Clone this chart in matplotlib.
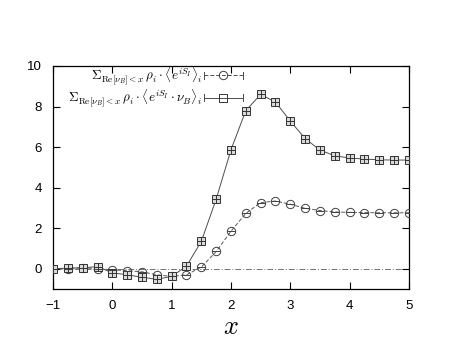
import numpy as np
import matplotlib
matplotlib.use("Agg")
import matplotlib.pyplot as plt
from matplotlib.lines import Line2D
from matplotlib.legend_handler import HandlerLine2D

plt.rcParams["font.family"] = ["Liberation Sans", "DejaVu Sans"]
plt.rcParams["mathtext.fontset"] = "cm"

# x grid of the scan
x_vals = [-1.0, -0.75, -0.5, -0.25, 0.0, 0.25, 0.5, 0.75, 1.0, 1.25, 1.5, 1.75,
          2.0, 2.25, 2.5, 2.75, 3.0, 3.25, 3.5, 3.75, 4.0, 4.25, 4.5, 4.75, 5.0]
# sum rho_i <e^{iS_I}>_i   (circles, dashed)
phase_sum = [0.0, 0.0, 0.05, 0.0, -0.05, -0.1, -0.15, -0.3, -0.38, -0.3, 0.08, 0.85,
             1.85, 2.73, 3.26, 3.34, 3.18, 2.98, 2.87, 2.80, 2.78, 2.77, 2.76, 2.76, 2.76]
# sum rho_i <e^{iS_I} nu_B>_i   (squares, solid)
nu_sum = [0.0, 0.03, 0.05, 0.1, -0.2, -0.3, -0.42, -0.52, -0.38, 0.13, 1.35, 3.43,
          5.87, 7.8, 8.6, 8.22, 7.28, 6.42, 5.85, 5.57, 5.46, 5.41, 5.37, 5.36, 5.36]

lab_phase = r"$\Sigma_{\mathrm{Re}[\nu_B]<x}\,\rho_i\cdot\langle e^{iS_I}\rangle_i$"
lab_nu = r"$\Sigma_{\mathrm{Re}[\nu_B]<x}\,\rho_i\cdot\langle e^{iS_I}\cdot\nu_B\rangle_i$"


class CapLineHandler(HandlerLine2D):
    """gnuplot-like key sample: |---o---| with end caps."""
    def create_artists(self, legend, orig_handle, xdescent, ydescent, width, height,
                       fontsize, trans):
        arts = super().create_artists(legend, orig_handle, xdescent, ydescent, width,
                                      height, fontsize, trans)
        y = height / 2 - ydescent
        for xe in (-xdescent, width - xdescent):
            cap = Line2D([xe, xe], [y - 2.5, y + 2.5], color="0.3", lw=0.7)
            cap.set_transform(trans)
            arts.append(cap)
        return arts


fig = plt.figure(figsize=(4.72, 3.54), dpi=100)
ax = fig.add_axes([0.1123, 0.1836, 0.7542, 0.63])

ax.axhline(0, color="0.45", lw=0.7, ls=(0, (6, 2, 1, 2)), zorder=1)

ax.plot(x_vals, phase_sum, ls=(0, (4, 2)), color="0.35", lw=0.7,
        marker="o", ms=6, mfc="none", mec="0.25", mew=0.7, zorder=3)
ax.plot(x_vals, phase_sum, ls="none", marker="_", ms=6, mec="0.25", mew=0.7, zorder=4)
ax.plot(x_vals, nu_sum, ls="-", color="0.3", lw=0.7,
        marker="s", ms=6.3, mfc="0.85", mec="0.2", mew=0.7, zorder=3)
ax.plot(x_vals, nu_sum, ls="none", marker="+", ms=6.3, mec="0.2", mew=0.7, zorder=4)

h_phase = Line2D([], [], ls=(0, (4, 2)), color="0.3", lw=0.7, marker="o", ms=6,
                 mfc="none", mec="0.25", mew=0.7)
h_nu = Line2D([], [], ls="-", color="0.3", lw=0.7, marker="s", ms=6.3,
              mfc="none", mec="0.2", mew=0.7)
leg = ax.legend([h_phase, h_nu], [lab_phase, lab_nu], loc="upper right",
                bbox_to_anchor=(0.56, 1.045), frameon=False, markerfirst=False,
                handlelength=3.0, handletextpad=0.1, labelspacing=0.05, fontsize=9.5,
                numpoints=1, borderaxespad=0.3,
                handler_map={Line2D: CapLineHandler()})
for t in leg.get_texts():
    t.set_ha("right")
leg._legend_box.align = "right"

ax.set_xlim(-1, 5)
ax.set_ylim(-1, 10)
ax.set_xticks([-1, 0, 1, 2, 3, 4, 5])
ax.set_yticks([0, 2, 4, 6, 8, 10])
ax.tick_params(direction="in", length=5, width=0.8, top=True, right=True,
               labelsize=9.5, pad=8)
for sp in ax.spines.values():
    sp.set_linewidth(0.9)
ax.set_xlabel(r"$x$", fontsize=19, labelpad=2)

fig.savefig("out.png", dpi=100)
